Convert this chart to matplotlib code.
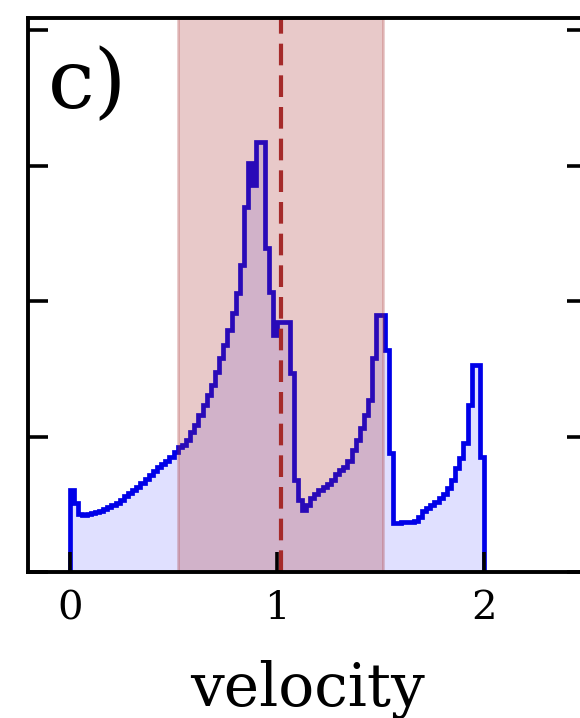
"""
velocity histogram, panel c)
"""

import numpy as np
from matplotlib import pyplot as plt

# histogram of velocities, 100 bins between 0 and 2
vel_lo = 0.0
vel_hi = 2.0
counts = [
    0.605, 0.509, 0.428, 0.421, 0.428, 0.435, 0.443, 0.450, 0.465, 0.480,
    0.494, 0.509, 0.531, 0.561, 0.583, 0.605, 0.627, 0.657, 0.686, 0.716,
    0.745, 0.775, 0.797, 0.819, 0.849, 0.886, 0.923, 0.937, 0.974, 1.033,
    1.085, 1.159, 1.232, 1.306, 1.380, 1.476, 1.579, 1.675, 1.786, 1.911,
    2.059, 2.266, 2.694, 3.018, 2.856, 3.173, 3.173, 2.391, 2.066, 1.749,
    1.845, 1.845, 1.845, 1.469, 0.679, 0.531, 0.458, 0.494, 0.546, 0.576,
    0.605, 0.627, 0.649, 0.679, 0.723, 0.753, 0.775, 0.819, 0.900, 0.974,
    1.063, 1.159, 1.269, 1.579, 1.897, 1.897, 1.638, 0.878, 0.362, 0.362,
    0.369, 0.369, 0.369, 0.376, 0.406, 0.450, 0.472, 0.494, 0.517, 0.546,
    0.576, 0.620, 0.679, 0.768, 0.841, 0.952, 1.232, 1.528, 1.528, 0.849,
]

# mean velocity and spread shown as the shaded band
v_mean = 1.017
v_std = 0.495

x_ticks = [0, 1, 2]
y_ticks = [0, 1, 2, 3, 4]
panel = "c)"

plt.rcParams["font.family"] = "DejaVu Serif"

fig = plt.figure(figsize=(5.8, 7.18), dpi=100)
ax = fig.add_axes([0.0483, 0.2033, 0.9638, 0.7716])

edges = np.linspace(vel_lo, vel_hi, len(counts) + 1)
ax.stairs(counts, edges, baseline=0, fill=True, color="blue", alpha=0.12, lw=0)
ax.stairs(counts, edges, baseline=0, color="#0000e8", lw=3.4)

ax.axvspan(v_mean - v_std, v_mean + v_std, color="brown", alpha=0.25, lw=2)
ax.axvline(v_mean, color="brown", lw=3.0, ls=(0, (5.2, 2.4)))

ax.set_xlim(-0.203, 2.497)
ax.set_ylim(0, 4.089)
ax.set_xticks(x_ticks)
ax.set_yticks(y_ticks)
ax.set_yticklabels([])
ax.tick_params(axis="x", direction="in", length=14.4, width=2.6,
               labelsize=29, pad=13)
ax.tick_params(axis="y", direction="in", length=14.4, width=2.6,
               left=True, right=True)
for s in ax.spines.values():
    s.set_linewidth(2.8)

ax.set_xlabel("velocity", fontsize=43, labelpad=24)
ax.text(0.036, 0.8375, panel, transform=ax.transAxes, fontsize=60,
        ha="left", va="baseline")

fig.savefig("out.png", dpi=100)
